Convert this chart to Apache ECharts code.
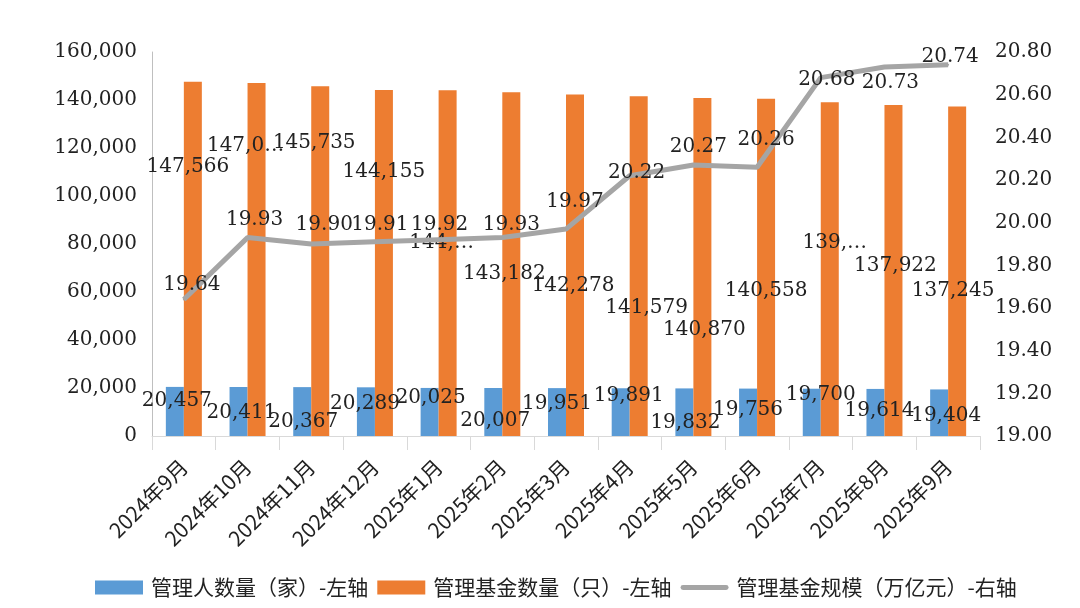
<!DOCTYPE html>
<html>
<head>
<meta charset="utf-8">
<script src="https://cdn.jsdelivr.net/npm/echarts@6/dist/echarts.min.js"></script>
<style>
  html, body { margin: 0; padding: 0; background: #fff; }
  #chart { width: 1080px; height: 608px; }
</style>
</head>
<body>
<div id="chart"></div>
<script>
var months = ['2024年9月', '2024年10月', '2024年11月', '2024年12月', '2025年1月', '2025年2月', '2025年3月',
  '2025年4月', '2025年5月', '2025年6月', '2025年7月', '2025年8月', '2025年9月'];
var managerCount = [20457, 20411, 20367, 20289, 20025, 20007, 19951, 19891, 19832, 19756, 19700, 19614, 19404];
var fundCount = [147566, 147040, 145735, 144155, 144040, 143182, 142278, 141579, 140870, 140558, 139100, 137922, 137245];
var fundScale = [19.64, 19.93, 19.90, 19.91, 19.92, 19.93, 19.97, 20.22, 20.27, 20.26, 20.68, 20.73, 20.74];
// labels that the original cut short
var fundCutLabels = {1: '147,0…', 4: '144,…', 10: '139,…'};

// where each data label sits, relative to its default 'top' place
var mgrShift = [[2, 29], [3, 41], [1, 50], [-1, 31], [1, 25], [2, 48], [0, 31], [8, 23], [1, 49], [0, 36], [9, 21], [4, 37], [7, 41]];
var fundShift = [[-5, 100], [-11, 78], [-6, 72], [0, 97], [-6, 167], [-7, 196], [-2, 206], [8, 227], [2, 247], [0, 207], [5, 156], [2, 176], [-4, 199]];
var scaleShift = [[8, 1], [7, -2], [13, -3], [5, -1], [1, 1], [9, 3], [9, -11], [7, 13], [5, -2], [9, -11], [6, 18], [6, 32], [2, 8]];

var numFont = 'DejaVu Serif';
var cjkFont = '"Noto Sans CJK SC", "Noto Sans", sans-serif';

function fmt(v) {
  return Number(v).toLocaleString('en-US');
}

function withShift(values, shifts) {
  return values.map(function (v, i) {
    return {value: v, label: {offset: shifts[i]}};
  });
}

var chart = echarts.init(document.getElementById('chart'));

var option = {
  animation: false,
  backgroundColor: '#fff',
  grid: {left: 152, right: 100, top: 52, bottom: 172},
  legend: {
    bottom: 5,
    left: 90,
    itemWidth: 48,
    itemHeight: 14,
    itemGap: 9,
    textStyle: {fontFamily: cjkFont, fontSize: 21, color: '#222', padding: [0, 0, 0, 3]},
    data: [
      {name: '管理人数量（家）-左轴', icon: 'rect'},
      {name: '管理基金数量（只）-左轴', icon: 'rect'},
      {name: '管理基金规模（万亿元）-右轴', icon: 'path://M2,0 L46,0 A2,2 0 0 1 46,5 L2,5 A2,2 0 0 1 2,0 Z'}
    ]
  },
  xAxis: {
    type: 'category',
    data: months,
    axisLine: {show: true, lineStyle: {color: '#d9d9d9', width: 1}},
    axisTick: {show: true, length: 14, lineStyle: {color: '#d9d9d9'}},
    axisLabel: {
      rotate: 45,
      interval: 0,
      margin: 27,
      fontFamily: cjkFont,
      fontSize: 21,
      color: '#222'
    }
  },
  yAxis: [
    {
      type: 'value',
      min: 0,
      max: 160000,
      interval: 20000,
      axisLine: {show: true, lineStyle: {color: '#bfbfbf'}},
      axisTick: {show: false},
      splitLine: {show: false},
      axisLabel: {
        margin: 15,
        fontFamily: numFont,
        fontSize: 20,
        color: '#222',
        formatter: function (v) { return fmt(v); }
      }
    },
    {
      type: 'value',
      min: 19.0,
      max: 20.8,
      interval: 0.2,
      axisLine: {show: false},
      axisTick: {show: false},
      splitLine: {show: false},
      axisLabel: {
        margin: 15,
        fontFamily: numFont,
        fontSize: 20,
        color: '#222',
        formatter: function (v) { return v.toFixed(2); }
      }
    }
  ],
  series: [
    {
      name: '管理人数量（家）-左轴',
      type: 'bar',
      yAxisIndex: 0,
      barWidth: 18,
      barGap: '0%',
      itemStyle: {color: '#5b9bd5'},
      label: {
        show: true,
        position: 'top',
        fontFamily: numFont,
        fontSize: 20,
        color: '#222',
        formatter: function (p) { return fmt(p.value); }
      },
      data: withShift(managerCount, mgrShift)
    },
    {
      name: '管理基金数量（只）-左轴',
      type: 'bar',
      yAxisIndex: 0,
      barWidth: 18,
      barGap: '0%',
      itemStyle: {color: '#ed7d31'},
      label: {
        show: true,
        position: 'top',
        fontFamily: numFont,
        fontSize: 20,
        color: '#222',
        formatter: function (p) {
          return fundCutLabels[p.dataIndex] || fmt(p.value);
        }
      },
      data: withShift(fundCount, fundShift)
    },
    {
      name: '管理基金规模（万亿元）-右轴',
      type: 'line',
      yAxisIndex: 1,
      symbol: 'circle',
      symbolSize: 2,
      showSymbol: true,
      itemStyle: {color: '#a5a5a5'},
      lineStyle: {color: '#a5a5a5', width: 5},
      z: 5,
      label: {
        show: true,
        position: 'top',
        fontFamily: numFont,
        fontSize: 20,
        color: '#222',
        formatter: function (p) { return p.value.toFixed(2); }
      },
      data: withShift(fundScale, scaleShift)
    }
  ]
};

chart.setOption(option);
</script>
</body>
</html>
